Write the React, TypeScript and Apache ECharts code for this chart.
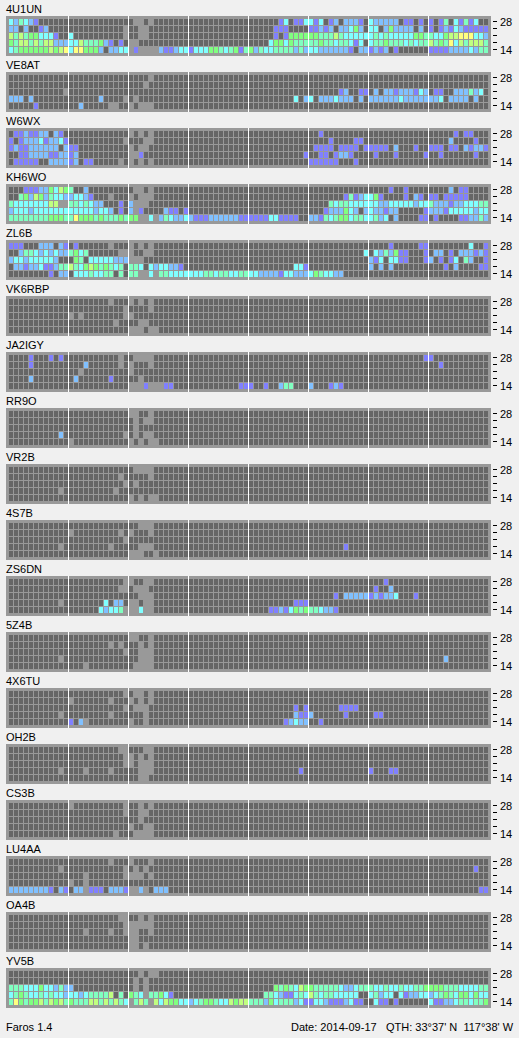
import React, { useEffect, useRef } from "react";
import * as echarts from "echarts";

// Legend of the strings: "." no signal, "#" not measured, 1-7 signal level. "_" is a whole 12-cell group of ".".
const stations = ["4U1UN","VE8AT","W6WX","KH6WO","ZL6B","VK6RBP","JA2IGY","RR9O","VR2B","4S7B","ZS6DN","5Z4B","4X6TU","OH2B","CS3B","LU4AA","OA4B","YV5B"];
const bandLabels = ["28", "", "", "", "14"];
const levelColors = ["#8080ff", "#80c0ff", "#80ffff", "#80ffc0", "#80ff80", "#c0ff80", "#ffff80"];
const hourBreaks = [12, 24, 36, 48, 60, 72, 84];

const r4U1UN = [
  "324321...... _ .##.#....... _ ......13.113 313.12.2221. 322222.11.1. 1.14.31413..",
  "22.2..12.... ...........# ..##........ _ .....111.... 11212.22352. 33.252222.2. 1.1213211111",
  "6464553331.. 3..........# ..##........ _ .....1.15555 554446433333 343433333554 433566777332",
  "546646466222 336444521.1. ##.......... _ ....35535444 44544344313. 344544434344 645473646664",
  "345555556567 3775552.2233 #1####211233 133355434514 524334444242 332222221.22 1212.1...... 111122223244",
];
const rVE8AT = [
  "_ _ ....#.......",
  "_ _ ...#........",
  "...........# _ _ _ _ ......12..11 .2.221222132 .11..222423.",
  "222.2....... ......2....# .#.......... _ .........3.2 3.2223222.2. 222222322222 223.2222.2..",
  ".....1...... ..2.....##.. #.###.......",
];
const rW6WX = [
  ".1121122.21. _ #.#.#....... _ _ ..1......... _ .....1.11...",
  "1.1222312231 ...........# ...##....... _ _ ....1....11. _ ....2....1..",
  "1211222222.2 11.......... #.##........ _ _ .1111.1111.1 1111.2...1.. 111.11.21221",
  "..1122221122 12.......... ##1......... _ ...........1 ..11.1221... .1...1.....1 ..1......1..",
  ".11111..2222 12.11.....#. #.#.#....... _ _ 111111...1..",
];
const rKH6WO = [
  "...111225365 4..2........ .##.#....... _ _ _ ....1..1.... ....2.11....",
  "..4526524332 23321...#... #.###....... _ _ .......14123 351....1.21. 11.11111....",
  "4333333366## 4434322...1. 2###........ _ _ ....43443333 332233333233 422212233344",
  "233323333333 333332332.1. 2#1....211.1 _ _ ...1222532.2 322122.....1 222133333233",
  "444444445554 475554544454 55##3#243223 211122222211 1111331111.. 221434553443 3423.2....11 .1....112242",
];
const rZL6B = [
  "111...222.21 .1......#... #.#.#....... _ _ _ ....1.....11 ........3..1",
  "..2443232322 4534......## #..##....... _ _ ...........3 .3242511...1 .22.1.222121",
  "2332333332.. .54.33333222 ###......... _ _ _ 213.3311...1 2.1.13.42..1",
  ".22122311244 64356545434. 443.3233221. _ .........331 _ 2.2.2....... ...1.2....11",
  "........1.22 .33343344.4. 44##3#443333 333443443344 332222133222 3543322.....",
];
const rVK6RBP = [
  "_ ........#... #.#.#.......",
  "_ ...........# ....#.......",
  "_ #.#........# #...........",
  "_ .........#.. ..##........",
  "_ _ ###.##......",
];
const rJA2IGY = [
  "....1...1.1. ..........#. .####....... _ _ _ ...........1 1...........",
  "....1....... ...2......#. #...#....... _ _ _ _ ..1.........",
  "_ ..#......... #...........",
  "....2....... .2......1... ..#.........",
  "_ _ ###1###11... ..........11 1..1..244... 2...121.....",
];
const rRR9O = [
  "_ _ ##..#.......",
  "_ _ .#.##.......",
  "_ _ .#..........",
  "..........2. ...........# .#.##.......",
  "_ #........... #.#.##......",
];
const rVR2B = [
  "_ _ .####.......",
  "_ ..........#. ....#.......",
  "_ ...........# .#..........",
  "..........#. .........#..",
  "_ _ #.#.##......",
];
const r4S7B = [
  "_ _ ..###.......",
  "_ #.........#. #...#.......",
  "_ ...........#",
  "..........#. ........#... ..###....... _ _ .......1....",
  "_ _ ###..#......",
];
const rZS6DN = [
  "_ ...........# #..##....... _ _ _ ...1........",
  "_ ..........## .###........ _ _ _ .1..2.......",
  "_ _ ..###....... _ _ .....1.22222 121223...1..",
  "..........#. .......3.22. ##.##....... _ .........111",
  "_ ......32334# ##3##....... _ ....11213545 443221......",
];
const r5Z4B = [
  "_ _ ##..#.......",
  "_ ........#.#. ..#.#.......",
  "_ ...........# ..###.......",
  "..........#. _ ..###....... _ _ _ _ ...2........",
  "_ ...#........ .####.......",
];
const r4X6TU = [
  "_ ...........# .##.#.......",
  "_ #.......#... #.#.#.......",
  "_ ...........# .###........ _ .........1.1 ......1111..",
  "..........#. ........#... ...#........ _ .........211 2......1.... .11.........",
  "_ 1.2#........ #..#........ _ .......12322 ..1.........",
];
const rOH2B = [
  "_ ..........## ...##.......",
  "_ ...........# #.#.#.......",
  "_ ...........# #.###.......",
  "..........#. ...#....#... ..###....... _ ..........1. _ 1...11......",
  "_ _ ..##........",
];
const rCS3B = [
  "_ #..........# ..#.#.......",
  "_ ...........# ..##........",
  "_ _ ..#.........",
  "_ _ #..##.......",
  "_ .........#.. .####.......",
];
const rLU4AA = [
  "_ ........#... #...#.......",
  "..........#. ...........# .#.#........ _ _ _ _ .........1..",
  "_ ...#.......# ###.#.......",
  "_ #..#........",
  "222222221.21 .22#111.2221 ##2#.222.... _ _ _ _ ..........11",
];
const rOA4B = [
  "_ ..........## ..#.#.......",
  "_ ...........# #####.......",
  "_ ...#....#..# ##..#.......",
  "_ _ ##..........",
  "_ _ ##.#........",
];
const rYV5B = [
  "_ _ ..#.##......",
  "_ _ .#.#........",
  "444333533242 2........... .#.#........ _ .....5454365 544444322344 433433433445 555444333344",
  "345433434332 332344446.4. 543#44531... _ ...443211343 6434433333.. 34233.312233 234543553533",
  "475455646564 544466464643 #464#6365533 234554336566 444253444231 13321112311. .311.1...... 311223443445",
];
const panels = [r4U1UN,rVE8AT,rW6WX,rKH6WO,rZL6B,rVK6RBP,rJA2IGY,rRR9O,rVR2B,r4S7B,rZS6DN,r5Z4B,r4X6TU,rOH2B,rCS3B,rLU4AA,rOA4B,rYV5B];

const footerLeft = "Faros 1.4";
const footerDate = "Date: 2014-09-17";
const footerQth = "QTH: 33\u00b037' N  117\u00b038' W";

const FONT = "Liberation Sans";
const PANEL_BG = "#999999";
const DARK = "#666666";

const expand = (row: string) =>
  row.split(" ").map((g) => (g === "_" ? "............" : g)).join("").padEnd(96, ".");

function cellsOf(rows: string[]) {
  const out: [number, number, number][] = [];
  rows.forEach((row, r) => {
    const s = expand(row);
    for (let c = 0; c < 96; c++) {
      const ch = s[c];
      if (ch === "#") continue;
      out.push([c, r, ch === "." ? 0 : Number(ch)]);
    }
  });
  return out;
}

export default function App() {
  const ref = useRef<HTMLDivElement>(null);
  useEffect(() => {
    document.body.style.margin = "0";
    document.body.style.background = "#f0f0f0";
    const chart = echarts.init(ref.current!, undefined, { renderer: "svg", width: 519, height: 1038 });
    const cols = Array.from({ length: 96 }, (_, i) => i);
    const grid: any[] = [], xAxis: any[] = [], yAxis: any[] = [], series: any[] = [], title: any[] = [], graphic: any[] = [];
    stations.forEach((name, p) => {
      const top = 56 * p;
      title.push({ text: name, left: 6, top: top + 3, padding: 0, textStyle: { fontFamily: FONT, fontSize: 11, fontWeight: "normal", color: "#000" } });
      graphic.push({ type: "rect", z: 0, shape: { x: 6, y: top + 16, width: 485, height: 40 }, style: { fill: PANEL_BG } });
      grid.push({ left: 9, top: top + 18, width: 480, height: 35 });
      xAxis.push({ type: "category", gridIndex: p, data: cols, show: false, boundaryGap: true });
      yAxis.push({
        type: "category", gridIndex: p, data: bandLabels.map((_, i) => i), inverse: true, position: "right", offset: 4,
        axisLine: { show: false },
        axisTick: { show: true, length: 4, alignWithLabel: true, lineStyle: { color: "#000", width: 1 } },
        axisLabel: { show: true, interval: 0, margin: 7, fontFamily: FONT, fontSize: 11, color: "#000", formatter: (_: any, i: number) => bandLabels[i] },
        splitLine: { show: false },
      });
      series.push({
        type: "custom", xAxisIndex: p, yAxisIndex: p, silent: true, data: cellsOf(panels[p]),
        clip: false,
        renderItem: (_: any, api: any) => {
          const pt = api.coord([api.value(0), api.value(1)]);
          const size = api.size([1, 1]);
          const lv = api.value(2);
          return {
            type: "rect",
            shape: { x: Math.round(pt[0] - size[0] / 2), y: Math.round(pt[1] - size[1] / 2) + 1, width: size[0] - 1, height: size[1] - 1 },
            style: { fill: lv === 0 ? DARK : levelColors[lv - 1] },
          };
        },
      });
      series.push({
        type: "custom", xAxisIndex: p, yAxisIndex: p, silent: true, data: hourBreaks.map((b) => [b, 0]), clip: false, z: 3,
        renderItem: (_: any, api: any) => {
          const pt = api.coord([api.value(0), api.value(1)]);
          const size = api.size([1, 1]);
          return {
            type: "rect",
            shape: { x: Math.round(pt[0] - size[0] / 2) - 1, y: Math.round(pt[1] - size[1] / 2) - 2, width: 1, height: 40 },
            style: { fill: "#fff" },
          };
        },
      });
    });
    const textStyle = { fontFamily: FONT, fontSize: 11, fill: "#000" };
    graphic.push({ type: "text", x: 6, y: 1021, style: { text: footerLeft, ...textStyle } });
    graphic.push({ type: "text", x: 291, y: 1021, style: { text: footerDate, ...textStyle } });
    graphic.push({ type: "text", x: 386, y: 1021, style: { text: footerQth, ...textStyle } });
    chart.setOption({ animation: false, backgroundColor: "#f0f0f0", title, grid, xAxis, yAxis, series, graphic });
    return () => chart.dispose();
  }, []);
  return <div ref={ref} style={{ position: "absolute", left: 0, top: 0, width: 519, height: 1038 }} />;
}
